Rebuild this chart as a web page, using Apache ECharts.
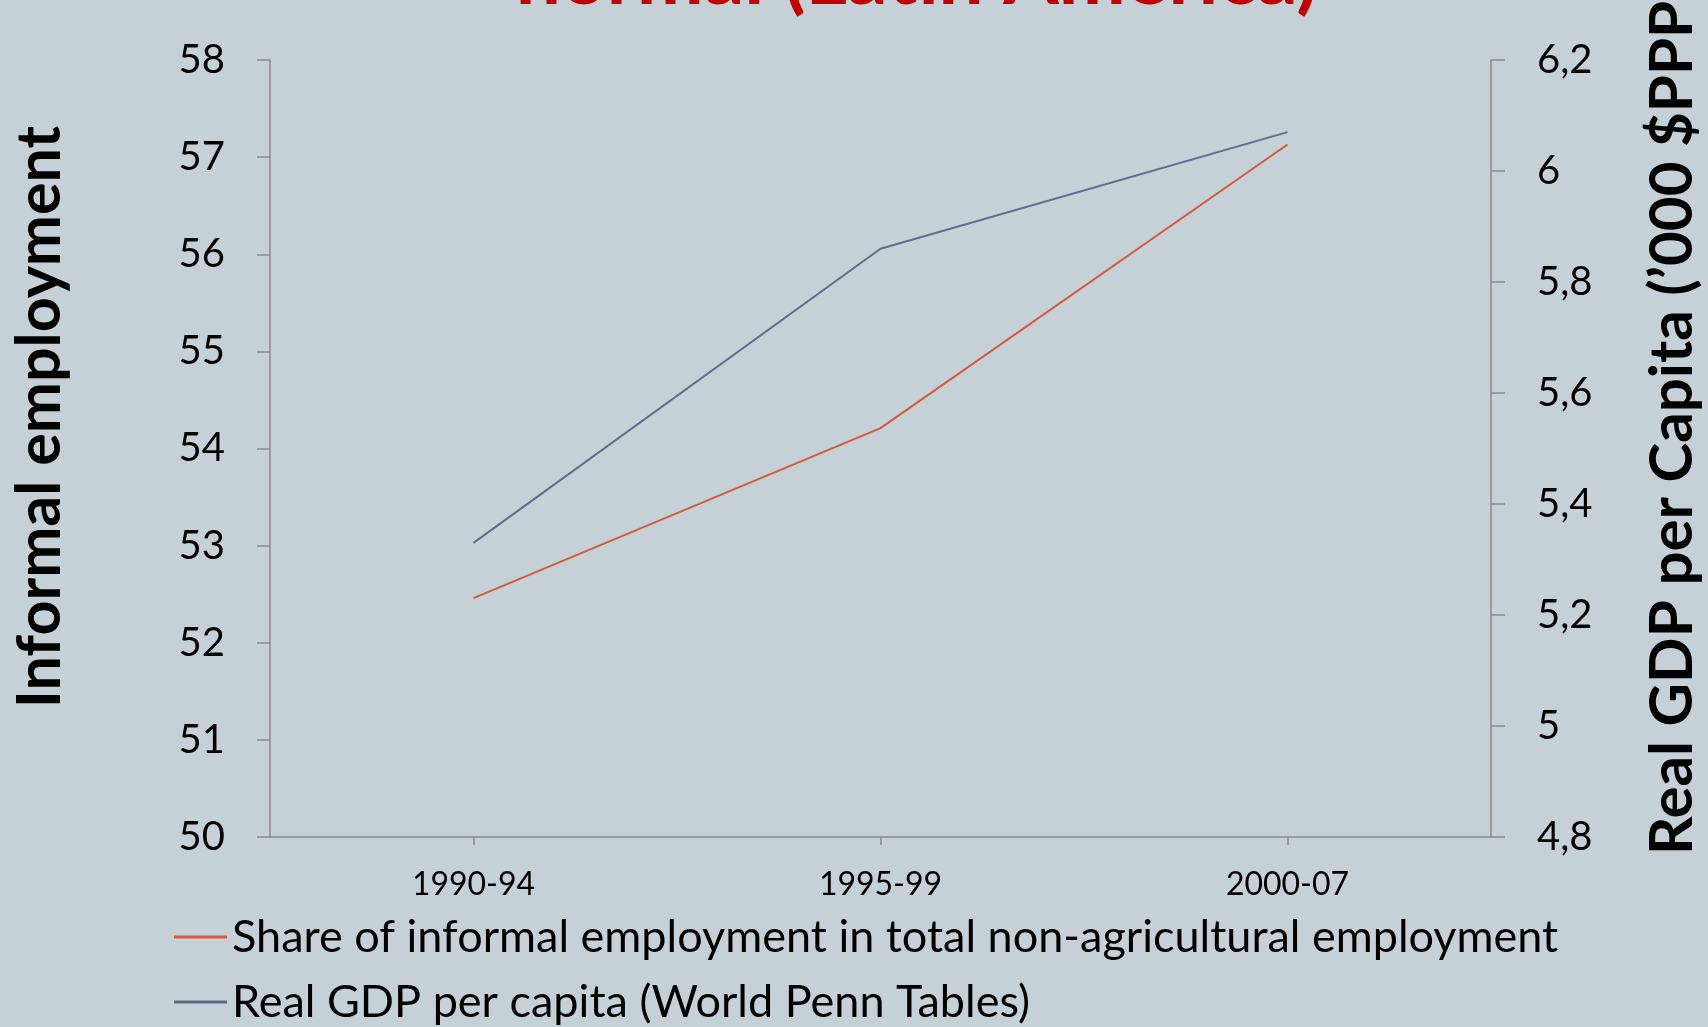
<!DOCTYPE html>
<html>
<head>
<meta charset="utf-8">
<script src="https://cdn.jsdelivr.net/npm/echarts@6/dist/echarts.min.js"></script>
<style>
  html, body { margin: 0; padding: 0; background: #C5D0D7; }
  #chart { width: 1708px; height: 1027px; }
</style>
</head>
<body>
<div id="chart"></div>
<script>
// Periods on the category axis
const periods = ['1990-94', '1995-99', '2000-07'];
// Share of informal employment in total non-agricultural employment (%)
const informalShare = [52.46, 54.21, 57.13];
// Real GDP per capita, thousand $PPP (World Penn Tables)
const gdpPerCapita = [5.33, 5.86, 6.07];

const seriesNames = [
  'Share of informal employment in total non-agricultural employment',
  'Real GDP per capita (World Penn Tables)'
];
const titleText = 'normal (Latin America)';
const leftAxisTitle = 'Informal employment';
const rightAxisTitle = 'Real GDP per Capita (\u2019000 $PPP)';

const FONT = 'Lato, "Open Sans", sans-serif';
const AXIS_GREY = '#8A8A8A';

// One legend block per row so each entry sits on its own line
function legendRow(name, top) {
  return {
    orient: 'horizontal',
    left: 174,
    top: top,
    padding: 0,
    itemWidth: 53,
    itemHeight: 3,
    icon: 'rect',
    textStyle: { fontFamily: FONT, fontSize: 45, color: '#000', lineHeight: 46 },
    data: [name]
  };
}

const chart = echarts.init(document.getElementById('chart'), null, { renderer: 'canvas' });

chart.setOption({
  backgroundColor: '#C5D0D7',
  animation: false,
  grid: { left: 270, right: 217, top: 60, bottom: 190 },
  legend: [
    legendRow(seriesNames[0], 914),
    legendRow(seriesNames[1], 979)
  ],
  xAxis: {
    type: 'category',
    data: periods,
    boundaryGap: true,
    axisLine: { lineStyle: { color: AXIS_GREY, width: 1.5 } },
    axisTick: { show: true, alignWithLabel: true, length: 8, lineStyle: { color: AXIS_GREY, width: 1.5 } },
    axisLabel: { fontFamily: FONT, fontSize: 32, color: '#000', margin: 32 },
    splitLine: { show: false }
  },
  yAxis: [
    {
      type: 'value',
      min: 50,
      max: 58,
      interval: 1,
      position: 'left',
      axisLine: { show: true, lineStyle: { color: AXIS_GREY, width: 1.5 } },
      axisTick: { show: true, length: 13, lineStyle: { color: AXIS_GREY, width: 1.5 } },
      axisLabel: { fontFamily: FONT, fontSize: 40, color: '#000', margin: 45 },
      splitLine: { show: false }
    },
    {
      type: 'value',
      min: 4.8,
      max: 6.2,
      interval: 0.2,
      position: 'right',
      axisLine: { show: true, lineStyle: { color: AXIS_GREY, width: 1.5 } },
      axisTick: { show: true, length: 14, lineStyle: { color: AXIS_GREY, width: 1.5 } },
      axisLabel: {
        fontFamily: FONT, fontSize: 40, color: '#000', margin: 46,
        formatter: v => String(Math.round(v * 10) / 10).replace('.', ',')
      },
      splitLine: { show: false }
    }
  ],
  series: [
    {
      name: seriesNames[0],
      type: 'line',
      yAxisIndex: 0,
      data: informalShare,
      symbol: 'none',
      lineStyle: { color: '#D35A3A', width: 2 },
      itemStyle: { color: '#D35A3A' }
    },
    {
      name: seriesNames[1],
      type: 'line',
      yAxisIndex: 1,
      data: gdpPerCapita,
      symbol: 'none',
      lineStyle: { color: '#636C86', width: 2 },
      itemStyle: { color: '#636C86' }
    }
  ],
  graphic: [
    {
      type: 'text',
      x: 917,
      y: -22,
      style: {
        text: titleText,
        fill: '#C00000',
        font: 'bold 80px ' + FONT,
        align: 'center',
        verticalAlign: 'middle'
      }
    },
    {
      type: 'text',
      x: 40,
      y: 417,
      rotation: Math.PI / 2,
      style: {
        text: leftAxisTitle,
        fill: '#000',
        font: 'bold 61px ' + FONT,
        align: 'center',
        verticalAlign: 'middle'
      }
    },
    {
      type: 'text',
      x: 1673,
      y: 855,
      rotation: Math.PI / 2,
      style: {
        text: rightAxisTitle,
        fill: '#000',
        font: 'bold 60px ' + FONT,
        align: 'left',
        verticalAlign: 'middle'
      }
    }
  ]
});
</script>
</body>
</html>
